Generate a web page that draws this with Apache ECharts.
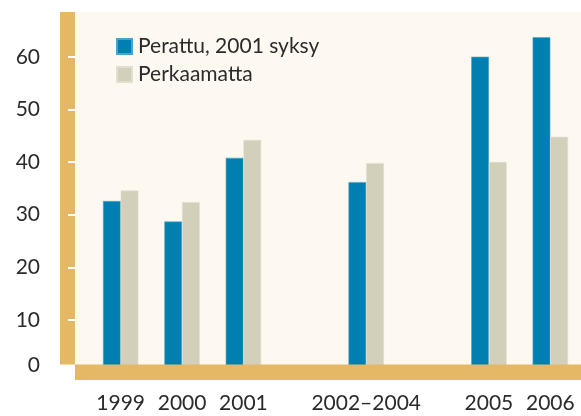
<!DOCTYPE html>
<html lang="fi">
<head>
  <meta charset="UTF-8">
  <title>Perattu / Perkaamatta</title>
  <style>
    html, body { margin: 0; padding: 0; background: #ffffff; }
    #main { width: 581px; height: 416px; }
  </style>
  <script src="https://cdn.jsdelivr.net/npm/echarts@6/dist/echarts.min.js"></script>
</head>
<body>
  <div id="main"></div>
  <script>
    // kategoriat (tyhjät välit tasaavat vuosien sijainnit)
    var categories = ['1999', '2000', '2001', '', '2002–2004', '', '2005', '2006'];
    var perattu = [32.6, 28.7, 40.8, null, 36.2, null, 60.0, 63.7];
    var perkaamatta = [34.6, 32.4, 44.2, null, 39.8, null, 40.0, 44.8];
    var yTicks = [0, 10, 20, 30, 40, 50, 60];

    var fontFamily = 'Lato, "DejaVu Sans", sans-serif';
    var fontSize = 21;
    var textColor = '#2b2b2b';
    var band = '#e4b864';

    var chart = echarts.init(document.getElementById('main'));

    var option = {
      animation: false,
      backgroundColor: '#ffffff',
      textStyle: { fontFamily: fontFamily },
      grid: { left: 90, right: 0, top: 12, bottom: 43.3 },
      // tausta ja oranssit reunat
      graphic: [
        { type: 'rect', shape: { x: 75, y: 12, width: 506, height: 353 }, style: { fill: '#fdf8f0' }, z: -10 },
        { type: 'rect', shape: { x: 60, y: 12, width: 15, height: 352.5 }, style: { fill: band }, z: -5 },
        { type: 'rect', shape: { x: 75, y: 364.5, width: 506, height: 15.5 }, style: { fill: band }, z: 100 }
      ],
      legend: {
        orient: 'vertical',
        left: 111,
        top: 31,
        itemWidth: 15,
        itemHeight: 15,
        itemGap: 7,
        icon: 'rect',
        textStyle: { fontSize: fontSize, color: textColor, fontFamily: fontFamily, padding: [0, 0, 0, 1] },
        data: ['Perattu, 2001 syksy', 'Perkaamatta']
      },
      xAxis: {
        type: 'category',
        data: categories,
        axisLine: { show: false },
        axisTick: { show: false },
        axisLabel: { fontSize: fontSize, color: textColor, margin: 20, interval: 0 }
      },
      yAxis: {
        type: 'value',
        min: 0,
        max: 68.5,
        interval: 10,
        offset: 15,
        splitLine: { show: false },
        axisLine: { show: false },
        axisTick: { show: true, length: 7, lineStyle: { color: '#ffffff', width: 2 }, customValues: yTicks.slice(1) },
        axisLabel: {
          fontSize: fontSize,
          color: textColor,
          margin: 35,
          customValues: yTicks,
          formatter: function (v) { return v === 0 ? '{z|0}' : String(v); },
          rich: { z: { fontSize: fontSize, color: textColor, padding: [0, 0, 15, 0] } }
        }
      },
      series: [
        {
          name: 'Perattu, 2001 syksy',
          type: 'bar',
          barWidth: 17.7,
          barGap: '0%',
          itemStyle: { color: '#0080b0', borderColor: '#4ba3c8', borderWidth: 0.6 },
          data: perattu
        },
        {
          name: 'Perkaamatta',
          type: 'bar',
          barWidth: 17.7,
          itemStyle: { color: '#d2cfba', borderColor: '#e2dfcf', borderWidth: 0.6 },
          data: perkaamatta
        }
      ]
    };

    chart.setOption(option);
  </script>
</body>
</html>
